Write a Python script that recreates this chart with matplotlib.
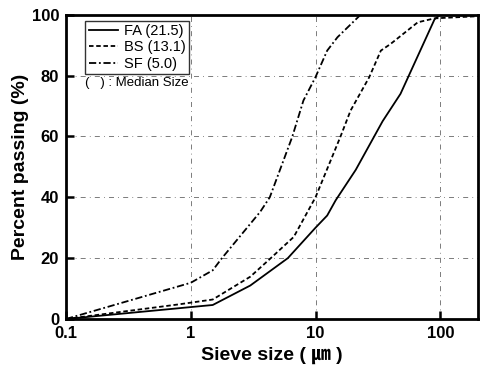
import matplotlib.pyplot as plt

# gradacao das particulas
fa_size = [0.1, 1.5, 3.0, 6.0, 10.0, 12.4, 14.5, 21.0, 34.5, 48.0, 90.0, 100.0, 200.0]
fa_pass = [0.0, 4.6, 11.0, 20.0, 30.0, 34.0, 39.0, 49.0, 65.0, 74.0, 98.5, 100.0, 100.0]

bs_size = [0.1, 0.8, 1.5, 3.0, 4.3, 6.7, 10.0, 15.8, 19.1, 26.9, 33.4, 40.0, 66.0, 90.0, 200.0]
bs_pass = [0.0, 4.8, 6.4, 13.9, 19.7, 27.0, 40.0, 59.8, 68.5, 79.4, 88.2, 90.4, 97.5, 98.8, 99.5]

sf_size = [0.1, 1.0, 1.5, 1.77, 3.6, 4.3, 6.5, 8.0, 10.0, 12.4, 15.0, 23.0]
sf_pass = [0.0, 11.9, 16.0, 19.9, 35.2, 40.0, 59.8, 71.8, 79.5, 88.2, 92.6, 100.0]

xticks = [0.1, 1, 10, 100]
xticklabels = ['0.1', '1', '10', '100']
yticks = [0, 20, 40, 60, 80, 100]

plt.rcParams['font.family'] = ['Liberation Sans', 'Noto Sans CJK KR', 'DejaVu Sans']

fig = plt.figure(figsize=(4.8, 3.72), dpi=100)
ax = fig.add_axes([0.1375, 0.1425, 0.858, 0.818])

ax.plot(fa_size, fa_pass, color='black', lw=1.3, ls='-', label='FA (21.5)')
ax.plot(bs_size, bs_pass, color='black', lw=1.3, ls=(0, (2.5, 1.5)), label='BS (13.1)')
ax.plot(sf_size, sf_pass, color='black', lw=1.3, ls=(0, (4, 1.5, 1, 1.5)), label='SF (5.0)')

ax.set_xscale('log')
ax.set_xlim(0.1, 200)
ax.set_ylim(0, 100)
ax.set_xticks(xticks)
ax.set_xticklabels(xticklabels)
ax.minorticks_off()
ax.set_yticks(yticks)

ax.grid(True, color='#666666', lw=0.6, ls=(0, (6, 5, 1, 5)))
for s in ax.spines.values():
    s.set_linewidth(2)

ax.tick_params(direction='in', length=6, width=1.8, labelsize=12, pad=5)
for lab in ax.get_xticklabels() + ax.get_yticklabels():
    lab.set_fontweight('bold')

ax.set_xlabel('Sieve size ( ㎛ )', fontsize=14, fontweight='bold', labelpad=4)
ax.set_ylabel('Percent passing (%)', fontsize=14, fontweight='bold', labelpad=2)

leg = ax.legend(loc='upper left', bbox_to_anchor=(0.04, 0.99), fontsize=10.5,
                frameon=True, fancybox=False, edgecolor='black',
                handlelength=2.0, handletextpad=0.4, borderpad=0.25,
                labelspacing=0.15, borderaxespad=0.2)
leg.get_frame().set_linewidth(1.0)

ax.text(0.045, 0.775, '(   ) : Median Size', transform=ax.transAxes, fontsize=9.5,
        va='center', ha='left')

fig.savefig('out.png', dpi=100)
